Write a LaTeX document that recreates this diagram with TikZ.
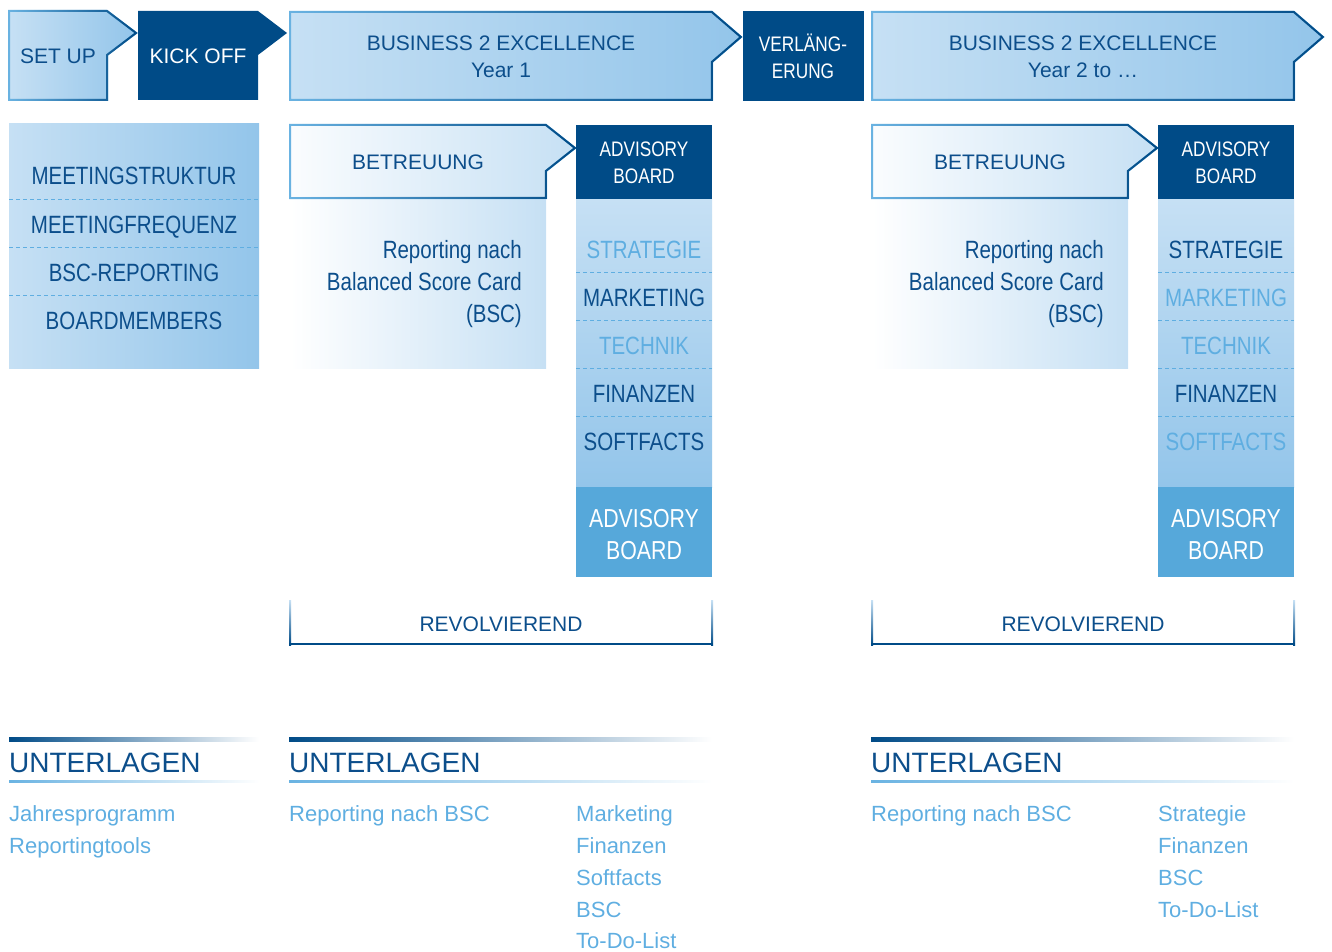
\documentclass[tikz,border=0pt]{standalone}
\usepackage{fontspec}
\setmainfont{Liberation Sans}
\newfontfamily\condfont[FakeStretch=0.82]{Liberation Sans}
\usetikzlibrary{fadings}

\definecolor{bdark}{HTML}{004B87}
\definecolor{btext}{HTML}{0C4E8B}
\definecolor{bmid}{HTML}{56A8DA}
\definecolor{blight}{HTML}{C6E0F4}
\definecolor{bfill}{HTML}{93C5EA}
\definecolor{bline}{HTML}{6AB3E2}
\definecolor{bpale}{HTML}{5FAEE1}

\tikzfading[name=fade in, left color=transparent!100, right color=transparent!0]

% tab shape: left, top, right, bottom, half height of the tip
\newcommand{\tabshape}[5]{(#1,#2) -- (#3,#2) -- ++(29,#5) -- ++(-29,#5) -- (#3,#4) -- (#1,#4) -- cycle}

% one year: name prefix, year text, colours of the five topics
\newcommand{\yeargroup}[7]{%
  % business box
  \shade[tabfill] \tabshape{290}{12}{712}{100}{25};
  \draw[edgelight] \tabshape{290}{12}{712}{100}{25};
  \draw[edgedark] \tabshape{290}{12}{712}{100}{25};
  \node[title] (#1bus)  at (501,50.5) {BUSINESS 2 EXCELLENCE};
  \node[title] (#1year) at (501,77.5) {#2};
  % betreuung
  \shade[left color=white, right color=blight] (290,198) rectangle (546,368);
  \shade[left color=white!92!blight, right color=blight] \tabshape{290}{125}{546}{198}{23};
  \draw[edgelight] \tabshape{290}{125}{546}{198}{23};
  \draw[edgedark] \tabshape{290}{125}{546}{198}{23};
  \node[title] (#1care) at (418,169.5) {BETREUUNG};
  \node[cond, anchor=base east, text=btext] (#1rep1) at (522,258) {Reporting nach};
  \node[cond, anchor=base east, text=btext] (#1rep2) at (522,290) {Balanced Score Card};
  \node[cond, anchor=base east, text=btext] (#1rep3) at (522,322) {(BSC)};
  % advisory board column
  \fill[bdark] (576,125) rectangle (712,199);
  \node[small, text=white] (#1adv1) at (644,156.5) {ADVISORY};
  \node[small, text=white] (#1adv2) at (644,183.5) {BOARD};
  \shade[top color=blight, bottom color=bfill] (576,199) rectangle (712,487);
  \draw[sep] (576,272.5) -- (712,272.5);
  \draw[sep] (576,320.5) -- (712,320.5);
  \draw[sep] (576,368.5) -- (712,368.5);
  \draw[sep] (576,416.5) -- (712,416.5);
  \node[cond, text=#3] (#1strat) at (644,258) {STRATEGIE};
  \node[cond, text=#4] (#1mark)  at (644,306) {MARKETING};
  \node[cond, text=#5] (#1tech)  at (644,354) {TECHNIK};
  \node[cond, text=#6] (#1fin)   at (644,402) {FINANZEN};
  \node[cond, text=#7] (#1soft)  at (644,450) {SOFTFACTS};
  \fill[bmid] (576,487) rectangle (712,577);
  \node[big] (#1board1) at (644,527) {ADVISORY};
  \node[big] (#1board2) at (644,559) {BOARD};
  % revolvierend bracket
  \shade[top color=blight, bottom color=bdark] (289,600) rectangle (291,645);
  \shade[top color=blight, bottom color=bdark] (711,600) rectangle (713,645);
  \fill[bdark] (289,643) rectangle (713,645);
  \node[title] (#1loop) at (501,631.5) {REVOLVIEREND};
}

% documents heading: name, left, right
\newcommand{\docsection}[3]{%
  \shade[left color=bdark, right color=white] (#2,737) rectangle (#3,741);
  \node[head] (#1) at (#2,772) {UNTERLAGEN};
  \shade[left color=bline, right color=white] (#2,780) rectangle (#3,782);
}

\begin{document}
\begin{tikzpicture}[x=1pt, y=-1pt,
  tabfill/.style={left color=blight, right color=bfill},
  edgelight/.style={draw=bline, line width=2pt, line join=miter},
  edgedark/.style={draw=bdark, line width=2pt, line join=miter, path fading=fade in},
  title/.style={anchor=base, inner sep=0pt, text=btext, font=\fontsize{21}{25}\selectfont},
  cond/.style={anchor=base, inner sep=0pt, font=\condfont\fontsize{25}{30}\selectfont},
  small/.style={anchor=base, inner sep=0pt, font=\condfont\fontsize{21}{25}\selectfont},
  big/.style={anchor=base, inner sep=0pt, text=white, font=\condfont\fontsize{26}{30}\selectfont},
  sep/.style={bpale, line width=1.2pt, dash pattern=on 4pt off 3pt},
  head/.style={anchor=base west, inner sep=0pt, text=btext, font=\fontsize{28}{32}\selectfont},
  doc/.style={anchor=base west, inner sep=0pt, text=bpale, font=\fontsize{22}{26}\selectfont}]
  \useasboundingbox (0,0) rectangle (1332,952);

  % set up and kick off
  \shade[tabfill] \tabshape{9}{11}{107}{100}{22};
  \draw[edgelight] \tabshape{9}{11}{107}{100}{22};
  \draw[edgedark] \tabshape{9}{11}{107}{100}{22};
  \node[title] (setup) at (58,63.5) {SET UP};
  \fill[bdark] \tabshape{138}{11}{258}{100}{22};
  \node[title, text=white] (kickoff) at (198,63.5) {KICK OFF};

  % meeting topics
  \shade[tabfill] (9,124) rectangle (259,368);
  \draw[sep] (9,199.5) -- (259,199.5);
  \draw[sep] (9,247.5) -- (259,247.5);
  \draw[sep] (9,295.5) -- (259,295.5);
  \node[cond, text=btext] (struct) at (134,185) {MEETINGSTRUKTUR};
  \node[cond, text=btext] (freq)   at (134,233) {MEETINGFREQUENZ};
  \node[cond, text=btext] (bscrep) at (134,281) {BSC-REPORTING};
  \node[cond, text=btext] (members) at (134,329) {BOARDMEMBERS};

  % year 1
  \yeargroup{a}{Year 1}{bpale}{btext}{bpale}{btext}{btext}

  % verlaengerung
  \fill[bdark] (743,11) rectangle (864,101);
  \node[small, text=white] (ext1) at (803,52) {VERLÄNG-};
  \node[small, text=white] (ext2) at (803,79) {ERUNG};

  % year 2
  \begin{scope}[xshift=582pt]
    \yeargroup{b}{Year 2 to …}{btext}{bpale}{bpale}{btext}{bpale}
  \end{scope}

  % documents
  \docsection{docs1}{9}{259}
  \docsection{docs2}{289}{712}
  \docsection{docs3}{871}{1294}
  \node[doc] (jahr)  at (9,821) {Jahresprogramm};
  \node[doc] (tools) at (9,853) {Reportingtools};
  \node[doc] (arep)  at (289,821) {Reporting nach BSC};
  \node[doc] (amark) at (576,821) {Marketing};
  \node[doc] (afin)  at (576,853) {Finanzen};
  \node[doc] (asoft) at (576,885) {Softfacts};
  \node[doc] (absc)  at (576,917) {BSC};
  \node[doc] (atodo) at (576,948) {To-Do-List};
  \node[doc] (brep)  at (871,821) {Reporting nach BSC};
  \node[doc] (bstrat) at (1158,821) {Strategie};
  \node[doc] (bfin)  at (1158,853) {Finanzen};
  \node[doc] (bbsc)  at (1158,885) {BSC};
  \node[doc] (btodo) at (1158,917) {To-Do-List};
\end{tikzpicture}
\end{document}
